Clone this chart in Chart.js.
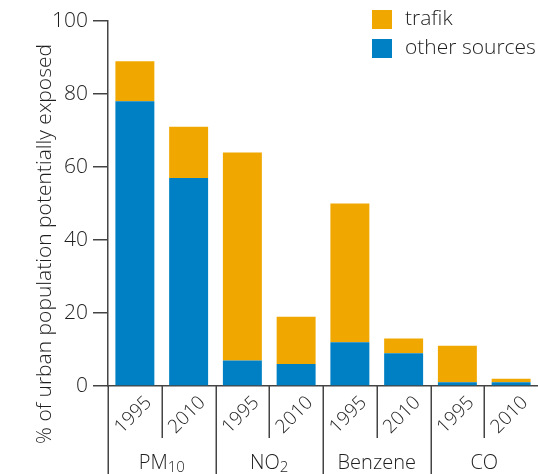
<!DOCTYPE html>
<html><head><meta charset="utf-8">
<script src="https://cdn.jsdelivr.net/npm/chart.js@4"></script>
<style>html,body{margin:0;padding:0;background:#fff;overflow:hidden}#wrap{width:538px;height:474px;position:relative}</style>
</head><body><div id="wrap"><canvas id="c" width="538" height="474"></canvas></div>
<script>
const years = ['1995','2010','1995','2010','1995','2010','1995','2010'];
const groupNames = ['PM','NO','Benzene','CO'];
const groupSubs = ['10','2','',''];
const otherSources = [78,57,7,6,12,9,1,1];
const trafik = [11,14,57,13,38,4,10,1];
const yTickStep = 20;
const yMax = 100;
const yTitle = '% of urban population potentially exposed';
const legendLabels = ['trafik','other sources'];

const ORANGE = '#F0A800';
const BLUE = '#0080C4';
const TEXT = '#1e1e1e';
const LINE = '#444';
const FONT = '"Open Sans", "Noto Sans", sans-serif';
const W = '300';

const labelsPlugin = {
  id: 'labelsPlugin',
  afterDraw(chart) {
    const ctx = chart.ctx;
    const xs = chart.scales.x, ys = chart.scales.y;
    const y0 = ys.getPixelForValue(0);
    const H = chart.height;
    ctx.save();
    // separators
    ctx.strokeStyle = LINE; ctx.lineWidth = 1.5;
    for (let i = 0; i < years.length; i++) {
      const bx = Math.round(xs.getPixelForValue(i - 0.5)) + 0.25;
      ctx.beginPath();
      ctx.moveTo(bx, y0);
      ctx.lineTo(bx, i % 2 === 0 ? H : y0 + 52);
      ctx.stroke();
    }
    // year labels
    ctx.fillStyle = TEXT;
    ctx.font = W + ' 19px ' + FONT;
    ctx.textAlign = 'center'; ctx.textBaseline = 'middle';
    years.forEach((yr, i) => {
      ctx.save();
      ctx.translate(xs.getPixelForValue(i) - 1.5, y0 + 29);
      ctx.rotate(-Math.PI / 4);
      ctx.fillText(yr, 0, 0);
      ctx.restore();
    });
    // group labels
    groupNames.forEach((g, k) => {
      const cx = xs.getPixelForValue(2 * k + 0.5);
      const cy = 463;
      ctx.font = W + ' 20px ' + FONT;
      const wb = ctx.measureText(g).width;
      let ws = 0;
      if (groupSubs[k]) { ctx.font = W + ' 15px ' + FONT; ws = ctx.measureText(groupSubs[k]).width; }
      const start = cx - (wb + ws) / 2;
      ctx.textAlign = 'left';
      ctx.font = W + ' 20px ' + FONT;
      ctx.fillText(g, start, cy);
      if (groupSubs[k]) { ctx.font = W + ' 15px ' + FONT; ctx.fillText(groupSubs[k], start + wb, cy + 5); }
    });
    // y title
    ctx.save();
    ctx.font = W + ' 21px ' + FONT;
    ctx.textAlign = 'center'; ctx.textBaseline = 'middle';
    ctx.translate(45, 244);
    ctx.rotate(-Math.PI / 2);
    ctx.fillText(yTitle, 0, 0);
    ctx.restore();
    // legend
    const cols = [ORANGE, BLUE];
    ctx.textAlign = 'left'; ctx.textBaseline = 'middle';
    ctx.font = W + ' 21px ' + FONT;
    legendLabels.forEach((l, i) => {
      const ty = 10 + i * 29;
      ctx.fillStyle = cols[i];
      ctx.fillRect(372, ty, 20, 19);
      ctx.fillStyle = TEXT;
      ctx.fillText(l, 405, ty + 9.5);
    });
    ctx.restore();
  }
};

new Chart(document.getElementById('c'), {
  type: 'bar',
  data: {
    labels: years,
    datasets: [
      { label: legendLabels[1], data: otherSources, backgroundColor: BLUE, barPercentage: 0.725, categoryPercentage: 1 },
      { label: legendLabels[0], data: trafik, backgroundColor: ORANGE, barPercentage: 0.725, categoryPercentage: 1 }
    ]
  },
  options: {
    responsive: false, animation: false, devicePixelRatio: 1,
    layout: { padding: { top: 21, left: 0, right: 0, bottom: 0 } },
    plugins: { legend: { display: false }, tooltip: { enabled: false } },
    scales: {
      x: {
        stacked: true,
        ticks: { display: false },
        grid: { display: false },
        border: { display: true, color: LINE, width: 1.5 },
        afterFit(s) { s.height = 88; }
      },
      y: {
        stacked: true, min: 0, max: yMax,
        ticks: { stepSize: yTickStep, color: TEXT, padding: 5, font: { family: FONT, size: 21, weight: W } },
        grid: { drawOnChartArea: false, drawTicks: true, tickLength: 15, color: LINE, lineWidth: 1.5 },
        border: { display: true, color: LINE, width: 1.5 },
        afterFit(s) { s.width = 108; }
      }
    }
  },
  plugins: [labelsPlugin]
});
</script></body></html>
